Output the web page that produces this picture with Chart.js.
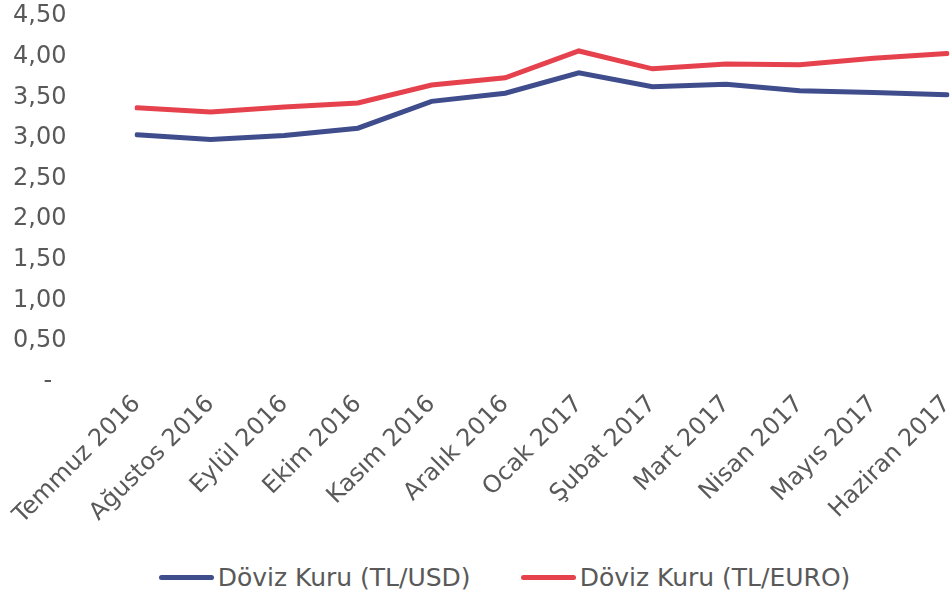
<!DOCTYPE html>
<html>
<head>
<meta charset="utf-8">
<script src="https://cdn.jsdelivr.net/npm/chart.js@4"></script>
<style>
  html, body { margin: 0; padding: 0; background: #fff; }
  #wrap { width: 951px; height: 555px; }
  #legend { width: 893px; height: 45px; padding-left: 58px; display: flex; justify-content: center; align-items: center;
    font-family: Verdana, "DejaVu Sans", sans-serif; font-size: 25px; color: #595959; }
  #legend .item { display: flex; align-items: center; margin: 0 25px; }
  #legend .mark { width: 55px; height: 5px; border-radius: 3px; margin-right: 4px; }
</style>
</head>
<body>
<div id="wrap"><canvas id="kurChart"></canvas></div>
<div id="legend"></div>
<script>
// months on the x axis
var months = ['Temmuz 2016', 'Ağustos 2016', 'Eylül 2016', 'Ekim 2016', 'Kasım 2016', 'Aralık 2016',
  'Ocak 2017', 'Şubat 2017', 'Mart 2017', 'Nisan 2017', 'Mayıs 2017', 'Haziran 2017'];

// exchange rates
var usdRates = [3.04, 2.98, 3.03, 3.12, 3.45, 3.55, 3.80, 3.63, 3.66, 3.58, 3.56, 3.53];
var euroRates = [3.37, 3.32, 3.38, 3.43, 3.65, 3.74, 4.07, 3.85, 3.91, 3.90, 3.98, 4.04];

var seriesNames = ['Döviz Kuru (TL/USD)', 'Döviz Kuru (TL/EURO)'];

var tickFont = { family: 'Verdana, "DejaVu Sans", sans-serif', size: 24, lineHeight: 1 };

var ctx = document.getElementById('kurChart').getContext('2d');
var kurChart = new Chart(ctx, {
	type: 'line',
	data: {
		labels: months,
		datasets: [{
			label: seriesNames[0],
			data: usdRates,
			borderColor: '#3f4d8d',
			backgroundColor: '#3f4d8d',
			borderWidth: 5,
			borderCapStyle: 'round',
			pointRadius: 0,
			tension: 0
		}, {
			label: seriesNames[1],
			data: euroRates,
			borderColor: '#e6424d',
			backgroundColor: '#e6424d',
			borderWidth: 5,
			borderCapStyle: 'round',
			pointRadius: 0,
			tension: 0
		}]
	},
	options: {
		responsive: true,
		maintainAspectRatio: false,
		animation: false,
		layout: { padding: { top: 2, right: 4, bottom: 17, left: 13 } },
		plugins: {
			tooltip: { enabled: false },
			legend: { display: false }
		},
		scales: {
			x: {
				grid: { display: false, drawTicks: false },
				border: { display: false },
				// last rotated label ends at its tick, no extra room needed on the right
				afterFit: function (scale) { scale.paddingRight = 0; },
				ticks: {
					color: '#595959',
					font: tickFont,
					minRotation: 45,
					maxRotation: 45,
					padding: 10,
					autoSkip: false
				}
			},
			y: {
				min: 0,
				max: 4.5,
				grid: { display: false, drawTicks: false },
				border: { display: false },
				afterFit: function (scale) { scale.width = 124; },
				ticks: {
					count: 10,
					autoSkip: false,
					crossAlign: 'far',
					color: '#595959',
					font: tickFont,
					padding: 4,
					callback: function (v) {
						if (v === 0) return '    -';
						return v.toFixed(2).replace('.', ',');
					}
				}
			}
		}
	}
});

// legend below the canvas, built from the datasets
var legendEl = document.getElementById('legend');
kurChart.data.datasets.forEach(function (ds) {
	var item = document.createElement('div');
	item.className = 'item';
	var mark = document.createElement('span');
	mark.className = 'mark';
	mark.style.background = ds.borderColor;
	var txt = document.createElement('span');
	txt.textContent = ds.label;
	item.appendChild(mark);
	item.appendChild(txt);
	legendEl.appendChild(item);
});
</script>
</body>
</html>
